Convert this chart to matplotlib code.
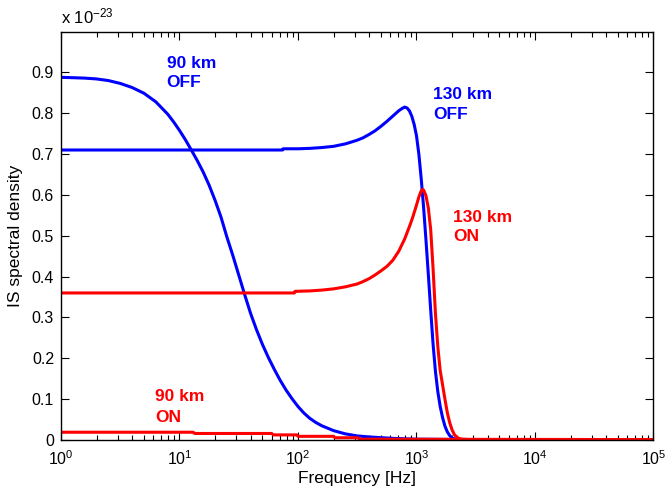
import matplotlib
matplotlib.use("Agg")
import matplotlib.pyplot as plt
from matplotlib.ticker import FixedLocator, LogLocator, NullFormatter

plt.rcParams['font.family'] = ['Liberation Sans', 'DejaVu Sans']
plt.rcParams['mathtext.fontset'] = 'custom'
plt.rcParams['mathtext.rm'] = 'Liberation Sans'
plt.rcParams['mathtext.it'] = 'Liberation Sans:italic'
plt.rcParams['mathtext.bf'] = 'Liberation Sans:bold'

# Spectral density in units of 1e-23, versus frequency in Hz
freq_90_off = [1, 1.259, 1.585, 1.995, 2.512, 3.162, 3.981, 5.012, 6.310, 7.943, 8.913, 10.0,
               11.22, 12.59, 14.13, 15.85, 17.78, 19.95, 22.39, 25.12, 28.18, 31.62, 35.48,
               39.81, 44.67, 50.12, 56.23, 63.10, 70.79, 79.43, 89.13, 100, 112.2, 125.9,
               141.3, 158.5, 199.5, 251.2, 316.2, 398.1, 631.0, 1000, 3162, 1e5]
sd_90_off = [0.888, 0.887, 0.886, 0.884, 0.880, 0.873, 0.863, 0.849, 0.828, 0.798, 0.779, 0.758,
             0.735, 0.710, 0.684, 0.656, 0.624, 0.587, 0.546, 0.497, 0.452, 0.404, 0.356,
             0.310, 0.270, 0.234, 0.202, 0.173, 0.146, 0.122, 0.101, 0.082, 0.066, 0.053,
             0.043, 0.035, 0.023, 0.015, 0.010, 0.0075, 0.004, 0.002, 0.001, 0.001]

freq_130_off = [1, 74.13, 74.99, 100, 125.9, 158.5, 199.5, 251.2, 316.2, 354.8, 398.1, 446.7,
                501.2, 562.3, 631.0, 707.9, 758.6, 794.3, 831.8, 871.0, 912.0, 955.0, 1000,
                1047, 1096, 1148, 1202, 1259, 1318, 1380, 1445, 1514, 1585, 1660, 1738, 1820,
                1905, 1995, 2138, 2512, 1e5]
sd_130_off = [0.710, 0.710, 0.713, 0.713, 0.714, 0.716, 0.719, 0.725, 0.734, 0.740, 0.748, 0.757,
              0.768, 0.780, 0.793, 0.806, 0.812, 0.815, 0.813, 0.806, 0.793, 0.773, 0.745,
              0.700, 0.640, 0.570, 0.490, 0.405, 0.318, 0.235, 0.168, 0.118, 0.082, 0.055,
              0.034, 0.020, 0.011, 0.005, 0.002, 0.001, 0.001]

freq_90_on = [1, 13.0, 13.5, 60, 62, 98, 100, 200, 205, 320, 330, 1e5]
sd_90_on = [0.019, 0.019, 0.016, 0.016, 0.0125, 0.0125, 0.009, 0.009, 0.0055, 0.0055, 0.002, 0.001]

freq_130_on = [1, 93.33, 94.41, 125.9, 158.5, 199.5, 251.2, 316.2, 354.8, 398.1, 446.7, 501.2,
               562.3, 631.0, 707.9, 794.3, 891.3, 933.3, 1000, 1047, 1096, 1122, 1148, 1202,
               1259, 1318, 1380, 1445, 1514, 1585, 1660, 1738, 1820, 1905, 1995, 2089, 2239,
               2399, 2818, 1e5]
sd_130_on = [0.360, 0.360, 0.364, 0.365, 0.367, 0.370, 0.375, 0.382, 0.388, 0.395, 0.404, 0.414,
             0.425, 0.440, 0.462, 0.492, 0.530, 0.547, 0.575, 0.595, 0.610, 0.613, 0.612, 0.598,
             0.568, 0.515, 0.420, 0.310, 0.228, 0.170, 0.135, 0.100, 0.067, 0.043, 0.025,
             0.013, 0.005, 0.002, 0.001, 0.001]

y_ticks = [0, 0.1, 0.2, 0.3, 0.4, 0.5, 0.6, 0.7, 0.8, 0.9]
y_tick_labels = ['0', '0.1', '0.2', '0.3', '0.4', '0.5', '0.6', '0.7', '0.8', '0.9']
x_ticks = [1, 10, 100, 1000, 10000, 100000]
x_tick_labels = [r'$10^{0}$', r'$10^{1}$', r'$10^{2}$', r'$10^{3}$', r'$10^{4}$', r'$10^{5}$']

BLUE = '#0000ff'
RED = '#ff0000'

fig = plt.figure(figsize=(6.65, 4.93), dpi=100)
ax = fig.add_axes([0.0917, 0.1075, 0.8910, 0.8285])

lw = 2.2
ax.semilogx(freq_90_off, sd_90_off, color=BLUE, lw=lw)
ax.semilogx(freq_130_off, sd_130_off, color=BLUE, lw=lw)
ax.semilogx(freq_90_on, sd_90_on, color=RED, lw=lw)
ax.semilogx(freq_130_on, sd_130_on, color=RED, lw=lw)

ax.set_xlim(1, 1e5)
ax.set_ylim(0, 1.0)

ax.xaxis.set_major_locator(FixedLocator(x_ticks))
ax.set_xticklabels(x_tick_labels)
ax.xaxis.set_minor_locator(LogLocator(base=10, subs=range(2, 10), numticks=20))
ax.xaxis.set_minor_formatter(NullFormatter())
ax.set_yticks(y_ticks)
ax.set_yticklabels(y_tick_labels)

ax.tick_params(which='both', direction='in', top=True, right=True, labelsize=11.5,
               colors='black', width=0.8)
ax.tick_params(which='major', length=6, pad=5)
ax.tick_params(which='minor', length=3.5)
ax.tick_params(axis='x', which='major', pad=7)
for sp in ax.spines.values():
    sp.set_linewidth(1.0)

ax.set_xlabel('Frequency [Hz]', fontsize=12.5, labelpad=2)
ax.set_ylabel('IS spectral density', fontsize=12.5, labelpad=6)

# Multiplier shown above the y axis
ax.text(0.0, 1.012, r'x 10$^{-23}$', transform=ax.transAxes, fontsize=12,
        ha='left', va='bottom')

# Curve annotations
ann = dict(fontsize=12.5, fontweight='bold', ha='left', va='baseline')
ax.text(7.8, 0.910, '90 km', color=BLUE, **ann)
ax.text(7.8, 0.865, 'OFF', color=BLUE, **ann)
ax.text(1387, 0.834, '130 km', color=BLUE, **ann)
ax.text(1387, 0.786, 'OFF', color=BLUE, **ann)
ax.text(2045, 0.533, '130 km', color=RED, **ann)
ax.text(2045, 0.486, 'ON', color=RED, **ann)
ax.text(6.21, 0.096, '90 km', color=RED, **ann)
ax.text(6.21, 0.045, 'ON', color=RED, **ann)

fig.savefig('out.png', dpi=100)
